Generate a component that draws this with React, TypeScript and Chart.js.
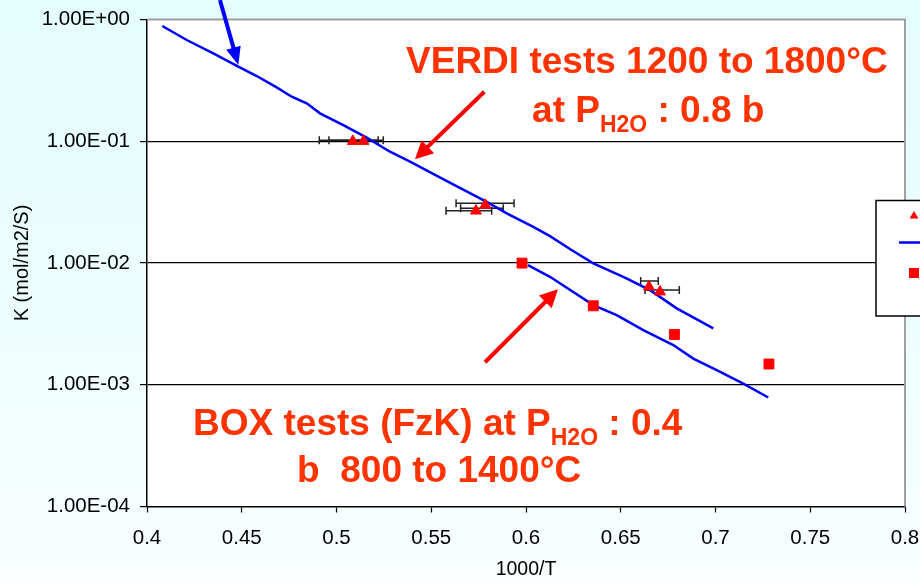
import React, { useEffect, useRef } from 'react';
import { Chart, registerables } from 'chart.js';

Chart.register(...registerables);

// ---- axis ticks ----
const xTickValues = [0.4, 0.45, 0.5, 0.55, 0.6, 0.65, 0.7, 0.75, 0.8];
const xTickLabels = ['0.4', '0.45', '0.5', '0.55', '0.6', '0.65', '0.7', '0.75', '0.8'];
const yTickValues = [1e-4, 1e-3, 1e-2, 1e-1, 1];
const yTickLabels = ['1.00E-04', '1.00E-03', '1.00E-02', '1.00E-01', '1.00E+00'];

// ---- VERDI tests (triangles) ----
const verdiX = [0.5086, 0.5142, 0.5785, 0.5736, 0.6649, 0.6707];
const verdiK = [0.1, 0.1, 0.0299, 0.0268, 0.00637, 0.0058];
// horizontal error bars
const errK = [0.102, 0.102, 0.0309, 0.0281, 0.0268, 0.0071, 0.006];
const errXLow = [0.4909, 0.496, 0.5631, 0.5655, 0.5578, 0.6605, 0.6628];
const errXHigh = [0.522, 0.5247, 0.5937, 0.588, 0.5819, 0.6698, 0.6809];

// ---- BOX tests (squares) ----
const boxX = [0.5979, 0.6355, 0.6783, 0.7282];
const boxK = [0.00998, 0.00445, 0.00259, 0.00148];

// ---- fitted curves ----
const fitHighX = [0.40807, 0.42095, 0.43499, 0.44818, 0.45789, 0.46844, 0.47636, 0.48427, 0.49129, 0.50359, 0.51594, 0.52823, 0.53931, 0.55726, 0.57926, 0.58982, 0.60385, 0.61266, 0.62400, 0.63551, 0.65135, 0.66544, 0.67953, 0.69884];
const fitHighK = [0.884, 0.6785, 0.5277, 0.4095, 0.3433, 0.2773, 0.232, 0.2048, 0.1696, 0.1358, 0.1072, 0.082, 0.0675, 0.048, 0.0318, 0.0256, 0.0198, 0.01663, 0.0128, 0.00992, 0.0077, 0.00599, 0.00424, 0.0029];
const fitLowX = [0.60106, 0.61266, 0.63551, 0.64786, 0.6619, 0.67773, 0.68828, 0.70063, 0.71467, 0.72786];
const fitLowK = [0.00961, 0.0077, 0.00451, 0.00373, 0.00281, 0.00212, 0.00164, 0.00132, 0.00102, 0.000786];

// ---- annotations ----
const arrowTailX = [0.4385, 0.578, 0.5784];
const arrowTailK = [1.445, 0.255, 0.00153];
const arrowTipX = [0.4482, 0.5414, 0.6169];
const arrowTipK = [0.423, 0.071, 0.0061];
const arrowIsBlue = [true, false, false];

const noteLines = [
  { x: 0.5367, k: 0.361, segs: [{ t: 'VERDI tests 1200 to 1800°C', sub: false }] },
  { x: 0.6032, k: 0.1445, segs: [{ t: 'at P', sub: false }, { t: 'H2O', sub: true }, { t: ' : 0.8 b', sub: false }] },
  { x: 0.4243, k: 0.000385, segs: [{ t: 'BOX tests (FzK) at P', sub: false }, { t: 'H2O', sub: true }, { t: ' : 0.4', sub: false }] },
  { x: 0.4792, k: 0.000159, segs: [{ t: 'b  800 to 1400°C', sub: false }] },
];

const FONT = '"Liberation Sans", Arial, sans-serif';

function drawArrow(ctx: CanvasRenderingContext2D, x1: number, y1: number, x2: number, y2: number, color: string, shaftW: number, headLen: number, headHalf: number) {
  const dx = x2 - x1, dy = y2 - y1;
  const len = Math.hypot(dx, dy);
  const ux = dx / len, uy = dy / len;
  const bx = x2 - ux * headLen, by = y2 - uy * headLen;
  ctx.save();
  ctx.strokeStyle = color;
  ctx.fillStyle = color;
  ctx.lineWidth = shaftW;
  ctx.lineCap = 'butt';
  ctx.beginPath();
  ctx.moveTo(x1, y1);
  ctx.lineTo(bx + ux * 2, by + uy * 2);
  ctx.stroke();
  ctx.beginPath();
  ctx.moveTo(x2, y2);
  ctx.lineTo(bx - uy * headHalf, by + ux * headHalf);
  ctx.lineTo(bx + uy * headHalf, by - ux * headHalf);
  ctx.closePath();
  ctx.fill();
  ctx.restore();
}

const chartPlugin = {
  id: 'decor',
  beforeDraw(chart: any) {
    const { ctx, width, height, chartArea: a } = chart;
    ctx.save();
    const g = ctx.createLinearGradient(0, 0, 0, height);
    g.addColorStop(0, '#e4fdfd');
    g.addColorStop(0.55, '#edfefe');
    g.addColorStop(1, '#fafeff');
    ctx.fillStyle = g;
    ctx.fillRect(0, 0, width, height);
    ctx.fillStyle = '#ffffff';
    ctx.fillRect(a.left, a.top, a.right - a.left, a.bottom - a.top);
    ctx.restore();
  },
  beforeDatasetsDraw(chart: any) {
    const { ctx, chartArea: a, scales } = chart;
    const xs = scales.x, ys = scales.y;
    ctx.save();
    // top & right frame
    ctx.strokeStyle = '#a0a0a0';
    ctx.lineWidth = 2;
    ctx.beginPath();
    ctx.moveTo(a.left, a.top);
    ctx.lineTo(a.right, a.top);
    ctx.lineTo(a.right, a.bottom);
    ctx.stroke();
    // error bars
    ctx.strokeStyle = '#222222';
    ctx.lineWidth = 1.5;
    for (let i = 0; i < errK.length; i++) {
      const y = ys.getPixelForValue(errK[i]);
      const x1 = xs.getPixelForValue(errXLow[i]);
      const x2 = xs.getPixelForValue(errXHigh[i]);
      ctx.beginPath();
      ctx.moveTo(x1, y);
      ctx.lineTo(x2, y);
      ctx.moveTo(x1, y - 4);
      ctx.lineTo(x1, y + 4);
      ctx.moveTo(x2, y - 4);
      ctx.lineTo(x2, y + 4);
      ctx.stroke();
    }
    ctx.restore();
  },
  afterDraw(chart: any) {
    const { ctx, chartArea: a, scales, width } = chart;
    const xs = scales.x, ys = scales.y;
    // arrows
    for (let i = 0; i < arrowTailX.length; i++) {
      drawArrow(
        ctx,
        xs.getPixelForValue(arrowTailX[i]), ys.getPixelForValue(arrowTailK[i]),
        xs.getPixelForValue(arrowTipX[i]), ys.getPixelForValue(arrowTipK[i]),
        arrowIsBlue[i] ? '#0000ff' : '#ff0000',
        4, 18, arrowIsBlue[i] ? 7.5 : 9
      );
    }
    // texts
    ctx.save();
    ctx.fillStyle = '#ff3300';
    ctx.textBaseline = 'alphabetic';
    ctx.textAlign = 'left';
    for (const line of noteLines) {
      let cx = xs.getPixelForValue(line.x);
      const by = ys.getPixelForValue(line.k);
      for (const s of line.segs) {
        ctx.font = s.sub ? `bold 23px ${FONT}` : `bold 37px ${FONT}`;
        ctx.fillText(s.t, cx, by + (s.sub ? 10 : 0));
        cx += ctx.measureText(s.t).width;
      }
    }
    ctx.restore();
    // legend box (partly outside canvas)
    const lx = a.right - 29, ly = a.top + 181, lh = 115.5;
    ctx.save();
    ctx.fillStyle = '#ffffff';
    ctx.fillRect(lx, ly, width - lx + 20, lh);
    ctx.strokeStyle = '#000000';
    ctx.lineWidth = 1.5;
    ctx.strokeRect(lx, ly, width - lx + 20, lh);
    const sx = lx + 38;
    // triangle
    ctx.fillStyle = '#ff0000';
    ctx.beginPath();
    ctx.moveTo(sx, ly + 10.5);
    ctx.lineTo(sx + 4.5, ly + 18);
    ctx.lineTo(sx - 4.5, ly + 18);
    ctx.closePath();
    ctx.fill();
    // line
    ctx.strokeStyle = '#0000ff';
    ctx.lineWidth = 2.5;
    ctx.beginPath();
    ctx.moveTo(lx + 23, ly + 42);
    ctx.lineTo(width + 5, ly + 42);
    ctx.stroke();
    // square
    ctx.fillStyle = '#ff0000';
    ctx.fillRect(sx - 5, ly + 67.5, 10, 10);
    ctx.restore();
  },
};

export default function App() {
  const ref = useRef<HTMLCanvasElement | null>(null);

  useEffect(() => {
    if (!ref.current) return;
    const chart = new Chart(ref.current, {
      type: 'scatter',
      data: {
        datasets: [
          {
            label: 'VERDI tests',
            data: verdiX.map((x, i) => ({ x, y: verdiK[i] })),
            pointStyle: 'triangle',
            pointRadius: 6.3,
            pointBackgroundColor: '#ff0000',
            pointBorderColor: '#ff0000',
            pointBorderWidth: 1,
            showLine: false,
          },
          {
            label: 'BOX tests',
            data: boxX.map((x, i) => ({ x, y: boxK[i] })),
            pointStyle: 'rect',
            pointRadius: 7,
            pointBackgroundColor: '#ff0000',
            pointBorderColor: '#ff0000',
            pointBorderWidth: 1,
            showLine: false,
          },
          {
            label: 'Fit high',
            data: fitHighX.map((x, i) => ({ x, y: fitHighK[i] })),
            showLine: true,
            borderColor: '#0000ff',
            borderWidth: 2.5,
            pointRadius: 0,
            tension: 0,
          },
          {
            label: 'Fit low',
            data: fitLowX.map((x, i) => ({ x, y: fitLowK[i] })),
            showLine: true,
            borderColor: '#0000ff',
            borderWidth: 2.5,
            pointRadius: 0,
            tension: 0,
          },
        ],
      },
      options: {
        responsive: false,
        animation: false,
        layout: { padding: { left: 0, top: 19.5, right: 15, bottom: 0 } },
        plugins: {
          legend: { display: false },
          tooltip: { enabled: false },
        },
        scales: {
          x: {
            type: 'linear',
            min: 0.4,
            max: 0.8,
            afterFit: (s: any) => { s.height = 77.5; s.paddingLeft = 0; s.paddingRight = 0; },
            afterBuildTicks: (s: any) => { s.ticks = xTickValues.map((v) => ({ value: v })); },
            ticks: {
              callback: (_v: any, i: number) => xTickLabels[i],
              color: '#000000',
              font: { family: FONT, size: 20.5 },
              padding: 13.5,
              maxRotation: 0,
            },
            grid: {
              drawOnChartArea: false,
              drawTicks: true,
              tickLength: 6,
              tickColor: '#000000',
              tickWidth: 1.2,
            },
            border: { display: true, color: '#000000', width: 1.5 },
            title: {
              display: true,
              text: '1000/T',
              color: '#000000',
              font: { family: FONT, size: 19.5 },
              padding: { top: 0, bottom: 2.5 },
            },
          },
          y: {
            type: 'logarithmic',
            min: 1e-4,
            max: 1,
            afterFit: (s: any) => { s.width = 147; s.paddingTop = 0; s.paddingBottom = 0; },
            afterBuildTicks: (s: any) => { s.ticks = yTickValues.map((v) => ({ value: v })); },
            ticks: {
              callback: (_v: any, i: number) => yTickLabels[i],
              color: '#000000',
              font: { family: FONT, size: 20.5 },
              padding: 10,
            },
            grid: {
              color: (c: any) => (c.tick && (c.tick.value === 1 || c.tick.value === 1e-4) ? 'rgba(0,0,0,0)' : '#000000'),
              lineWidth: 1.2,
              tickLength: 7,
              tickColor: '#000000',
              tickWidth: 1.2,
            },
            border: { display: true, color: '#000000', width: 1.5 },
            title: {
              display: true,
              text: 'K (mol/m2/S)',
              color: '#000000',
              font: { family: FONT, size: 20 },
              padding: { top: 10, bottom: 0 },
            },
          },
        },
      },
      plugins: [chartPlugin],
    });
    return () => chart.destroy();
  }, []);

  return (
    <div style={{ position: 'fixed', left: 0, top: 0, width: 920, height: 584 }}>
      <canvas ref={ref} width={920} height={584} style={{ display: 'block', width: 920, height: 584 }} />
    </div>
  );
}
